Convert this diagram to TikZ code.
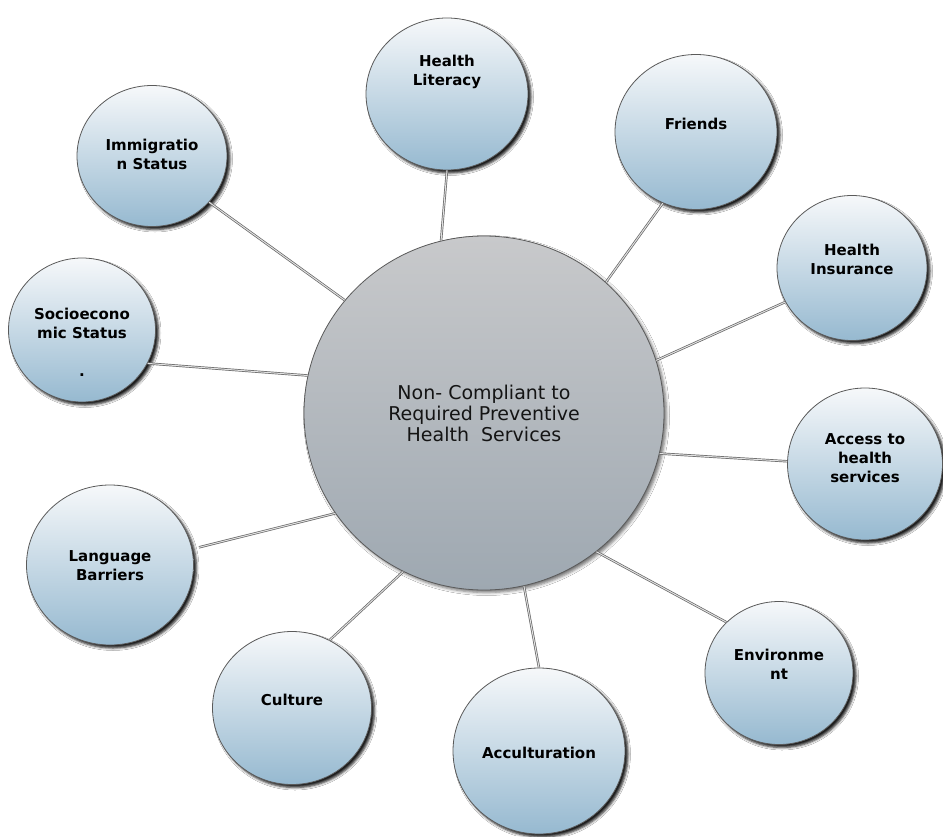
\documentclass[tikz,border=0pt]{standalone}
\usepackage{fontspec}
\setmainfont{DejaVu Sans}
\usetikzlibrary{shapes.geometric,shadows.blur}
\definecolor{bubtop}{RGB}{246,248,250}
\definecolor{bubbot}{RGB}{150,185,208}
\definecolor{centop}{RGB}{200,201,203}
\definecolor{cenbot}{RGB}{158,168,177}
\definecolor{bord}{RGB}{90,90,90}
\definecolor{connc}{RGB}{100,100,100}
\definecolor{conni}{RGB}{225,225,225}
\begin{document}
\begin{tikzpicture}[x=1pt,y=-1pt,
  bub/.style={ellipse, draw=bord, line width=0.8pt, inner sep=0pt,
    top color=bubtop, bottom color=bubbot,
    blur shadow={shadow xshift=3pt, shadow yshift=-3pt, shadow blur radius=2.5pt, shadow opacity=90}},
  cen/.style={ellipse, draw=bord, line width=0.8pt, inner sep=0pt,
    top color=centop, bottom color=cenbot,
    blur shadow={shadow xshift=2.5pt, shadow yshift=-2.5pt, shadow blur radius=3pt, shadow opacity=55}},
  lbl/.style={font=\bfseries\fontsize{15}{19}\selectfont, align=center, text=black},
  clbl/.style={font=\fontsize{19}{21}\selectfont, align=center, text={rgb,255:red,20;green,20;blue,20}},
  conn/.style={draw=connc, line width=0.7pt, double=conni, double distance=1pt}]
\fill[white] (0,0) rectangle (943,836);
\useasboundingbox (0,0) rectangle (943,836);

\node[cen, minimum width=360pt, minimum height=354pt] (core) at (484,413) {};
\node[bub, minimum width=150pt, minimum height=141pt] (imm) at (152,156) {};
\node[bub, minimum width=162pt, minimum height=152pt] (lit) at (447,94) {};
\node[bub, minimum width=162pt, minimum height=155pt] (fri) at (696,132) {};
\node[bub, minimum width=150pt, minimum height=145pt] (hin) at (852,268) {};
\node[bub, minimum width=155pt, minimum height=152pt] (acc) at (865,464) {};
\node[bub, minimum width=148pt, minimum height=143pt] (env) at (779,673) {};
\node[bub, minimum width=172pt, minimum height=166pt] (acu) at (539,751) {};
\node[bub, minimum width=159pt, minimum height=153pt] (cul) at (292,708) {};
\node[bub, minimum width=167pt, minimum height=160pt] (lan) at (110,565) {};
\node[bub, minimum width=147pt, minimum height=144pt] (soc) at (82,330) {};

\draw[conn] (imm.-39) -- (core.141.8);
\draw[conn] (lit.-90) -- (core.104.4);
\draw[conn] (fri.-115.6) -- (core.47.3);
\draw[conn] (hin.207.6) -- (core.17.8);
\draw[conn] (acc.178.5) -- (core.-13.7);
\draw[conn] (env.136.7) -- (core.-51);
\draw[conn] (acu.90) -- (core.-77);
\draw[conn] (cul.61.4) -- (core.-117.4);
\draw[conn, shorten <=7pt] (lan.11.6) -- (core.214.1);
\draw[conn] (soc.-27.3) -- (core.168.6);

\node[clbl] (tcore) at (484,413) {Non- Compliant to\\Required Preventive\\Health\ \ Services};
\node[lbl] (timm) at (152,154) {Immigratio\\n Status};
\node[lbl] (tlit) at (447,72) {Health\\Literacy};
\node[lbl] (tfri) at (696,124) {Friends};
\node[lbl] (thin) at (852,259.5) {Health\\Insurance};
\node[lbl] (tacc) at (865,458) {Access to\\health\\services};
\node[lbl] (tenv) at (779,664) {Environme\\nt};
\node[lbl] (tacu) at (539,753) {Acculturation};
\node[lbl] (tcul) at (292,700) {Culture};
\node[lbl] (tlan) at (110,565.5) {Language\\Barriers};
\node[lbl] (tsoc) at (82,342.5) {Socioecono\\mic Status\\\mbox{}\\.};
\end{tikzpicture}
\end{document}
